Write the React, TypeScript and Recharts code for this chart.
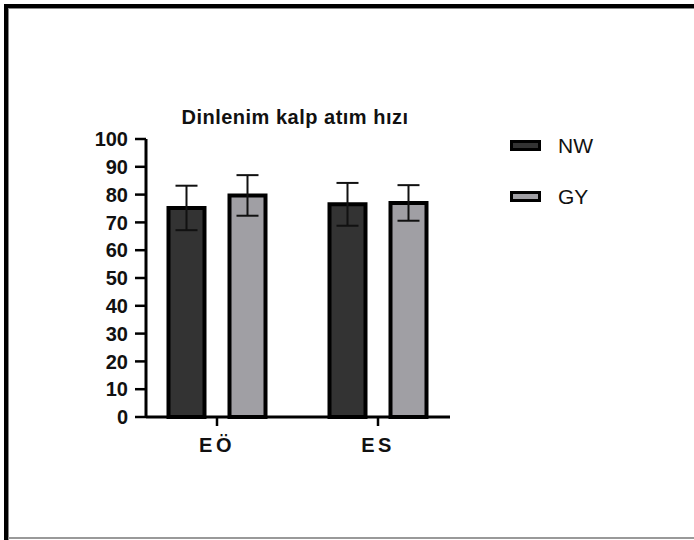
import React from 'react';
import { BarChart, Bar, XAxis, YAxis, ErrorBar, Legend } from 'recharts';

const categories = ['EÖ', 'ES'];
const nwMeans = [75.2, 76.5];
const nwErrors = [8, 7.7];
const gyMeans = [79.7, 77];
const gyErrors = [7.3, 6.4];
const yTicks = [0, 10, 20, 30, 40, 50, 60, 70, 80, 90, 100];
const title = 'Dinlenim kalp atım hızı';
const seriesNames = ['NW', 'GY'];
const seriesColors = ['#333333', '#a09fa4'];

const data = categories.map((c, i) => ({
  name: c,
  NW: nwMeans[i],
  NWerr: nwErrors[i],
  GY: gyMeans[i],
  GYerr: gyErrors[i],
}));

const ARIAL = '"Liberation Sans", Arial, sans-serif';

const renderLegend = (props: any) => {
  const payload = [...(props.payload || [])].sort(
    (a: any, b: any) => seriesNames.indexOf(a.value) - seriesNames.indexOf(b.value)
  );
  return (
    <svg width={140} height={110}>
      {payload.map((entry: any, i: number) => (
        <g key={entry.value} transform={`translate(0, ${i * 51})`}>
          <rect x={3.5} y={11.5} width={28} height={8} fill={entry.color} stroke="#000" strokeWidth={3} />
          <text x={50} y={23} fontFamily={ARIAL} fontSize={21} fill="#111">
            {entry.value}
          </text>
        </g>
      ))}
    </svg>
  );
};

export default function App() {
  return (
    <div style={{ position: 'absolute', left: 0, top: 0, width: 694, height: 540, background: '#fff', overflow: 'hidden' }}>
      {/* frame */}
      <div style={{ position: 'absolute', left: 4, top: 4, width: 690, height: 4, background: '#000' }} />
      <div style={{ position: 'absolute', left: 8, top: 8, width: 686, height: 1, background: '#888' }} />
      <div style={{ position: 'absolute', left: 4, top: 4, width: 4, height: 536, background: '#000' }} />
      <div style={{ position: 'absolute', left: 8, top: 8, width: 1, height: 532, background: '#888' }} />
      <div style={{ position: 'absolute', left: 8, top: 537, width: 686, height: 2, background: '#999' }} />
      <div
        style={{
          position: 'absolute',
          left: 0,
          width: 590,
          top: 105,
          textAlign: 'center',
          fontFamily: ARIAL,
          fontWeight: 'bold',
          fontSize: 20,
          letterSpacing: 0.5,
          color: '#111',
          lineHeight: '24px',
        }}
      >
        {title}
      </div>
      <BarChart
        width={694}
        height={540}
        data={data}
        margin={{ top: 139, right: 244, bottom: 63, left: 86 }}
        barSize={36}
        barGap={25}
        style={{ position: 'absolute', left: 0, top: 0 }}
      >
        <XAxis
          dataKey="name"
          padding={{ left: -9.5, right: -8.5 }}
          axisLine={{ stroke: '#000', strokeWidth: 3 }}
          tickLine={{ stroke: '#000', strokeWidth: 2.5 }}
          tickSize={9}
          tickMargin={12}
          tick={{ fill: '#111', fontFamily: ARIAL, fontWeight: 'bold', fontSize: 20, letterSpacing: 3.5 }}
          height={60}
        />
        <YAxis
          domain={[0, 100]}
          ticks={yTicks}
          interval={0}
          width={60}
          axisLine={{ stroke: '#000', strokeWidth: 3 }}
          tickLine={{ stroke: '#000', strokeWidth: 2.5 }}
          tickSize={11}
          tickMargin={7}
          tick={{ fill: '#111', fontFamily: ARIAL, fontWeight: 'bold', fontSize: 20 }}
        />
        <Legend
          layout="vertical"
          align="center"
          verticalAlign="middle"
          content={renderLegend}
          wrapperStyle={{ position: 'absolute', left: 508, top: 130, width: 140, height: 110 }}
        />
        <Bar dataKey="NW" name={seriesNames[0]} fill={seriesColors[0]} stroke="#000" strokeWidth={4} isAnimationActive={false}>
          <ErrorBar dataKey="NWerr" width={11} stroke="#111" strokeWidth={2} />
        </Bar>
        <Bar dataKey="GY" name={seriesNames[1]} fill={seriesColors[1]} stroke="#000" strokeWidth={4} isAnimationActive={false}>
          <ErrorBar dataKey="GYerr" width={11} stroke="#111" strokeWidth={2} />
        </Bar>
      </BarChart>
    </div>
  );
}
